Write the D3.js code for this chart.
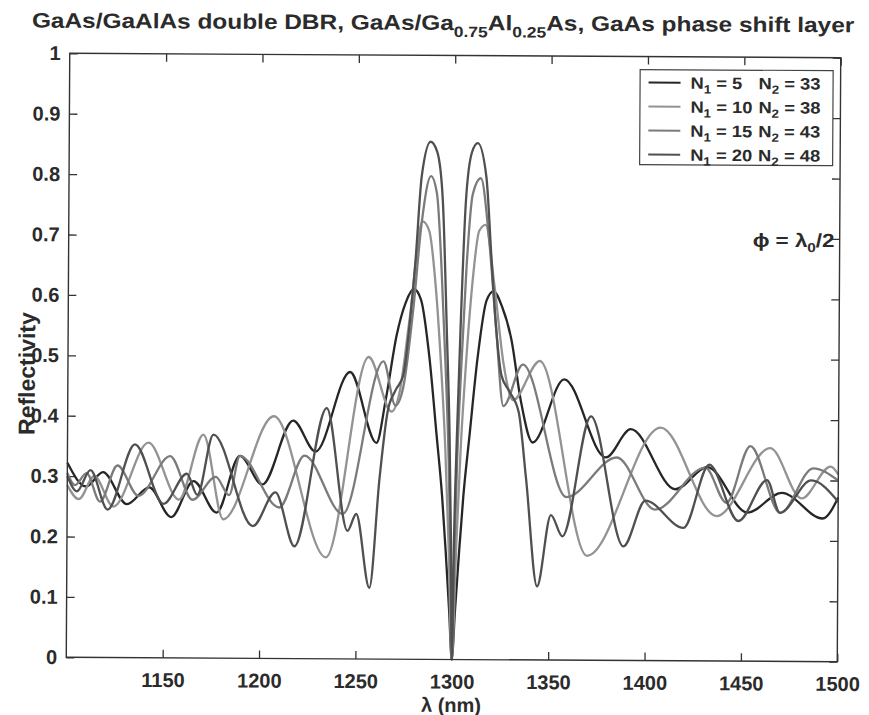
<!DOCTYPE html>
<html><head><meta charset="utf-8">
<script src="https://cdn.jsdelivr.net/npm/d3@7"></script>
<style>
body{margin:0;background:#fff}
svg{display:block}
text{font-family:"Liberation Sans",Arial,sans-serif;font-weight:bold;fill:#2b2b2b}
</style></head><body>
<svg id="chart" width="869" height="715"></svg>
<script>
// ---------- data ----------
const xTicks = [1150,1200,1250,1300,1350,1400,1450,1500];
const yTicks = [0,0.1,0.2,0.3,0.4,0.5,0.6,0.7,0.8,0.9,1];
const n1Values = [5,10,15,20];
const n2Values = [33,38,43,48];

// N1 = 5, N2 = 33
const lam5 = [1100,1109.8,1118.5,1131,1142.5,1154,1165.5,1177.5,1189.5,1201.2,1217,1228.7,1246.4,1260.3,1265,1270.5,1275,1279.2,1283,1287.5,1291.5,1294.5,1296.5,1298.5,1300,1301.5,1303.5,1305.5,1308.5,1312.5,1317,1320.6,1325,1330,1335,1341.3,1357.5,1379.3,1392.2,1415.5,1432,1453,1470.7,1492,1500];
const ref5 = [0.322,0.283,0.307,0.254,0.282,0.233,0.293,0.241,0.335,0.288,0.394,0.343,0.475,0.358,0.43,0.537,0.59,0.613,0.595,0.50,0.37,0.27,0.18,0.08,0,0.08,0.18,0.27,0.37,0.50,0.595,0.61,0.585,0.53,0.43,0.36,0.465,0.336,0.383,0.284,0.321,0.246,0.279,0.237,0.272];

// N1 = 10, N2 = 38
const lam10 = [1100,1106,1114,1124,1142,1158,1170.5,1181,1207,1234.4,1256,1268,1272,1277,1283.5,1287,1290.5,1293.5,1296,1298,1300,1302,1304,1306.5,1309.5,1313,1316.3,1321,1326,1331,1344.8,1369.8,1407.7,1437,1464.6,1481,1496,1500];
const ref10 = [0.285,0.262,0.300,0.250,0.356,0.262,0.370,0.230,0.401,0.168,0.500,0.410,0.440,0.560,0.725,0.71,0.62,0.49,0.35,0.19,0,0.19,0.35,0.49,0.62,0.71,0.72,0.62,0.49,0.43,0.495,0.173,0.386,0.240,0.353,0.270,0.323,0.310];

// N1 = 15, N2 = 43
const lam15 = [1100,1104,1110,1117,1126,1137,1153.3,1165,1177,1184,1189.5,1210,1223,1243,1263.7,1270,1274,1279,1283,1287.8,1291,1293.5,1296,1297.8,1299,1300,1301,1302.2,1304,1306.5,1309.5,1313.7,1318,1322,1326,1336,1359,1385,1405,1431,1442,1454.3,1470,1487,1500];
const ref15 = [0.305,0.285,0.305,0.258,0.318,0.268,0.334,0.262,0.300,0.270,0.335,0.250,0.336,0.240,0.493,0.420,0.450,0.580,0.720,0.800,0.77,0.65,0.48,0.33,0.17,0,0.17,0.33,0.48,0.65,0.77,0.797,0.70,0.55,0.42,0.489,0.270,0.336,0.250,0.320,0.262,0.356,0.246,0.320,0.300];

// N1 = 20, N2 = 48
const lam20 = [1100,1105,1112,1121,1135,1150,1162,1167.5,1175.7,1196.4,1208,1218,1234.4,1245.5,1250,1257,1262,1266,1270,1274,1277,1280,1283,1287.5,1291,1294,1296.5,1298.2,1299.2,1300,1300.8,1302,1303.5,1306,1309,1312,1316.5,1319.5,1322,1325,1329,1334,1338,1344,1351,1357,1371.5,1388.7,1400,1419.8,1433,1448.3,1463,1469.8,1486,1500];
const ref20 = [0.300,0.275,0.310,0.245,0.353,0.255,0.305,0.270,0.370,0.219,0.275,0.186,0.415,0.212,0.240,0.118,0.300,0.410,0.445,0.470,0.550,0.660,0.800,0.857,0.84,0.76,0.54,0.37,0.20,0,0.20,0.37,0.54,0.76,0.84,0.855,0.80,0.66,0.55,0.47,0.445,0.410,0.300,0.122,0.240,0.205,0.404,0.189,0.265,0.220,0.325,0.232,0.300,0.246,0.300,0.265];

const seriesLam = [lam5, lam10, lam15, lam20];
const seriesRef = [ref5, ref10, ref15, ref20];
const seriesColors = ["#262626", "#939393", "#7b7b7b", "#505050"];

// ---------- layout ----------
const X0 = 68, Y0 = 55.5, W = 771, H = 604;
const svg = d3.select("#chart");
const root = svg.append("g").attr("transform", "rotate(0.33,453,358)");

const x = d3.scaleLinear().domain([1100, 1500]).range([0, W]);
const y = d3.scaleLinear().domain([0, 1]).range([H, 0]);

function squeeze(sel, x0, k) {
  sel.attr("transform", `translate(${x0},0) scale(${k},1) translate(${-x0},0)`);
}
function fitWidth(sel, x0, target) {
  const k = target / sel.node().getBBox().width;
  squeeze(sel, x0, k);
  return k;
}

// title
const title = root.append("text").attr("x", 30).attr("y", 30).style("font-size", "21px");
title.append("tspan").text("GaAs/GaAlAs double DBR, GaAs/Ga");
title.append("tspan").attr("dy", 7).style("font-size", "15px").text("0.75");
title.append("tspan").attr("dy", -7).text("Al");
title.append("tspan").attr("dy", 7).style("font-size", "15px").text("0.25");
title.append("tspan").attr("dy", -7).text("As, GaAs phase shift layer");
fitWidth(title, 30, 823);

const plot = root.append("g").attr("transform", `translate(${X0},${Y0})`);

// axes with inward ticks on all four sides
const fmtY = d => d === 0 ? "0" : d === 1 ? "1" : d3.format(".1f")(d);
const axB = plot.append("g").attr("transform", `translate(0,${H})`)
  .call(d3.axisBottom(x).tickValues(xTicks).tickSizeInner(-8).tickSizeOuter(0).tickPadding(15).tickFormat(d3.format("d")));
const axT = plot.append("g")
  .call(d3.axisTop(x).tickValues(xTicks).tickSizeInner(-8).tickSizeOuter(0).tickFormat(""));
const axL = plot.append("g")
  .call(d3.axisLeft(y).tickValues(yTicks).tickSizeInner(-8).tickSizeOuter(0).tickPadding(9).tickFormat(fmtY));
const axR = plot.append("g").attr("transform", `translate(${W},0)`)
  .call(d3.axisRight(y).tickValues(yTicks).tickSizeInner(-8).tickSizeOuter(0).tickFormat(""));
[axB, axT, axL, axR].forEach(a => {
  a.select(".domain").remove();
  a.selectAll("line").attr("stroke", "#333").attr("stroke-width", 1.3);
  a.selectAll("text").attr("fill", "#2b2b2b").style("font-size", "20px").style("font-family", '"Liberation Sans",Arial,sans-serif').style("font-weight", "bold");
});
axB.selectAll("text").attr("dy", "0.71em");

// curves
const line = d3.line().x(d => x(d[0])).y(d => y(d[1])).curve(d3.curveMonotoneX);
seriesLam.forEach((lam, i) => {
  const pts = lam.map((l, j) => [l, seriesRef[i][j]]);
  plot.append("path").datum(pts).attr("d", line)
    .attr("fill", "none").attr("stroke", seriesColors[i])
    .attr("stroke-width", 2.3).attr("stroke-linejoin", "round");
});

// frame
plot.append("rect").attr("x", 0).attr("y", 0).attr("width", W).attr("height", H)
  .attr("fill", "none").attr("stroke", "#333").attr("stroke-width", 1.4);

// legend
const lg = root.append("g");
lg.append("rect").attr("x", 638.5).attr("y", 68.5).attr("width", 193).attr("height", 95)
  .attr("fill", "#fff").attr("stroke", "#444").attr("stroke-width", 1.2);
const t1s = [], t2s = [];
n1Values.forEach((n1, i) => {
  const cy = 81.5 + i * 24;
  lg.append("line").attr("x1", 647).attr("x2", 679).attr("y1", cy).attr("y2", cy)
    .attr("stroke", seriesColors[i]).attr("stroke-width", 2);
  const t1 = lg.append("text").attr("x", 689).attr("y", cy + 6).style("font-size", "16.5px");
  t1.append("tspan").text("N");
  t1.append("tspan").attr("dy", 4.5).style("font-size", "12px").text("1");
  t1.append("tspan").attr("dy", -4.5).text(" = " + n1);
  const t2 = lg.append("text").attr("x", 757).attr("y", cy + 6).style("font-size", "16.5px");
  t2.append("tspan").text("N");
  t2.append("tspan").attr("dy", 4.5).style("font-size", "12px").text("2");
  t2.append("tspan").attr("dy", -4.5).text(" = " + n2Values[i]);
  t1s.push(t1); t2s.push(t2);
});
const kLeg = 62 / t1s[1].node().getBBox().width;
t1s.forEach(t => squeeze(t, 689, kLeg));
t2s.forEach(t => squeeze(t, 757, kLeg));

// annotation
const ann = root.append("text").attr("x", 752).attr("y", 245).style("font-size", "19px");
ann.append("tspan").text("\u03d5 = \u03bb");
ann.append("tspan").attr("dy", 5).style("font-size", "13px").text("0");
ann.append("tspan").attr("dy", -5).text("/2");
fitWidth(ann, 752, 82);

// axis labels
root.append("text").attr("x", 453).attr("y", 712).attr("text-anchor", "middle")
  .style("font-size", "20px").text("\u03bb (nm)");
root.append("text").attr("transform", "translate(35,376) rotate(-90)").attr("text-anchor", "middle")
  .style("font-size", "23px").text("Reflectivity");
</script>
</body></html>
